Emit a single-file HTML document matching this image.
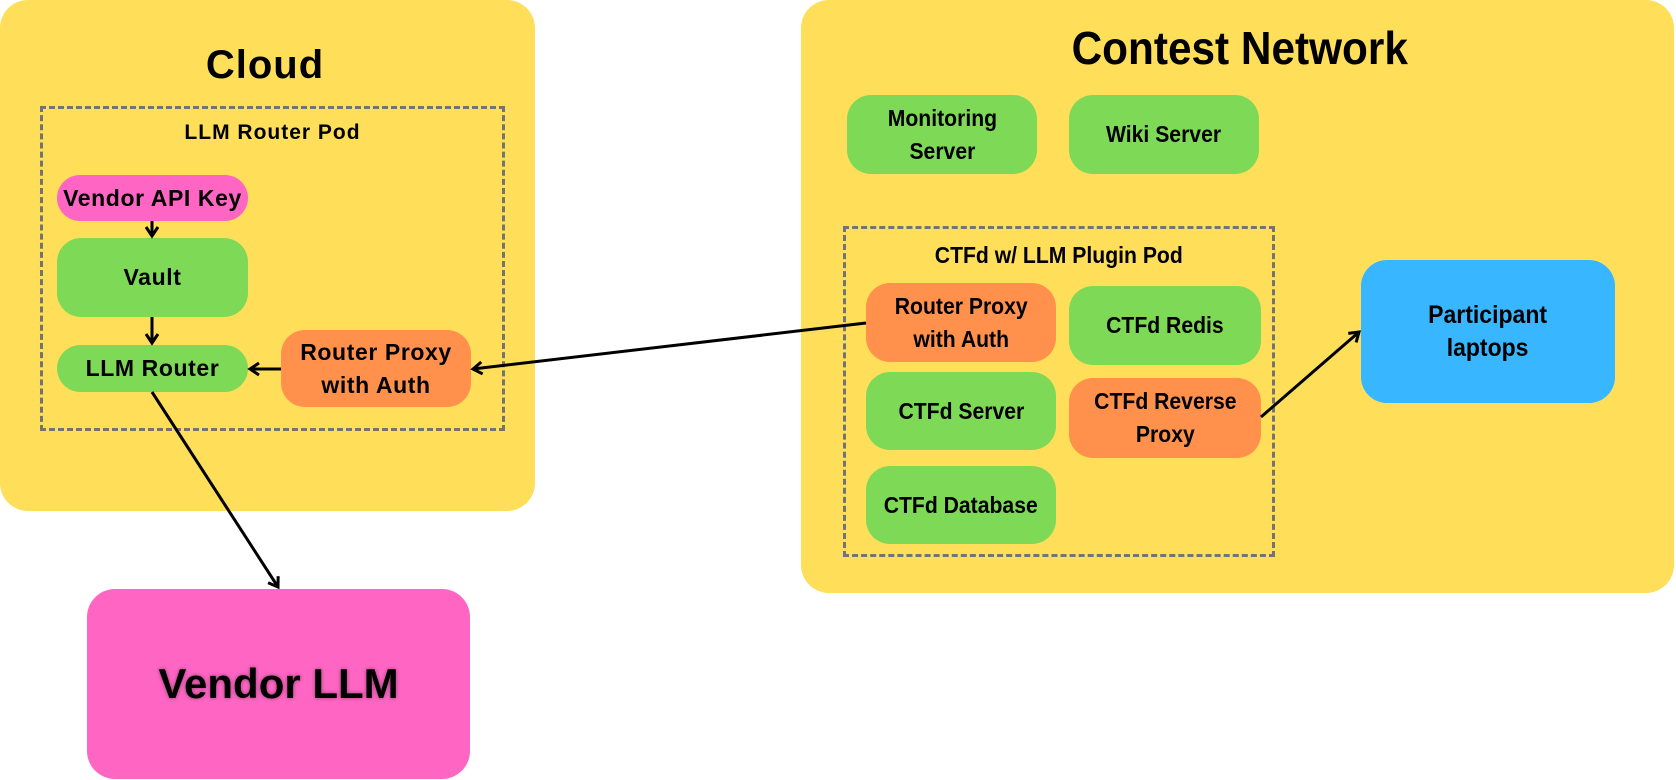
<!DOCTYPE html>
<html><head><meta charset="utf-8"><style>
body{margin:0;width:1676px;height:780px;background:#fff;position:relative;overflow:hidden;font-family:"Liberation Sans",sans-serif;font-weight:bold;color:#000}
.a{position:absolute;box-sizing:border-box;display:flex;align-items:center;justify-content:center;text-align:center}
.y{background:#ffde59;border-radius:28px}
.g{background:#7ed957}
.o{background:#ff914d}
.p{background:#ff66c4}
.d{border:3px dashed #737373}
.n{font-size:23px;line-height:33px;border-radius:24px;letter-spacing:0.6px}
.c span{display:inline-block;white-space:nowrap;transform:scaleX(0.92)}
.c{font-size:23px;line-height:33px;letter-spacing:0}
</style></head><body>
<div class="a y" style="left:0;top:0;width:535px;height:511px"></div>
<div class="a y" style="left:801px;top:0;width:873px;height:593px"></div>
<div class="a" style="left:0;top:40px;width:530px;height:50px;font-size:40px;letter-spacing:1px">Cloud</div>
<div class="a c" style="left:900px;top:22px;width:680px;height:52px;font-size:46px"><span>Contest Network</span></div>
<div class="a d" style="left:40px;top:106px;width:465px;height:325px"></div>
<div class="a" style="left:40px;top:119px;width:465px;height:28px;font-size:21px;letter-spacing:1px">LLM Router Pod</div>
<div class="a n p" style="left:57px;top:175px;width:191px;height:46px;white-space:nowrap">Vendor API Key</div>
<div class="a n g" style="left:57px;top:238px;width:191px;height:79px">Vault</div>
<div class="a n g" style="left:57px;top:345px;width:191px;height:47px">LLM Router</div>
<div class="a n o" style="left:281px;top:330px;width:190px;height:77px">Router Proxy<br>with Auth</div>
<div class="a p" style="left:87px;top:589px;width:383px;height:190px;border-radius:28px;font-size:42px;text-shadow:0 0 4px rgba(0,0,0,.4)">Vendor LLM</div>

<div class="a d" style="left:843px;top:226px;width:432px;height:331px"></div>
<div class="a c" style="left:843px;top:240px;width:432px;height:30px;font-size:23px"><span>CTFd w/ LLM Plugin Pod</span></div>
<div class="a n c g" style="left:847px;top:95px;width:190px;height:79px"><span>Monitoring<br>Server</span></div>
<div class="a n c g" style="left:1069px;top:95px;width:190px;height:79px"><span>Wiki Server</span></div>
<div class="a n c o" style="left:866px;top:283px;width:190px;height:79px"><span>Router Proxy<br>with Auth</span></div>
<div class="a n c g" style="left:1069px;top:286px;width:192px;height:79px"><span>CTFd Redis</span></div>
<div class="a n c g" style="left:866px;top:372px;width:190px;height:78px"><span>CTFd Server</span></div>
<div class="a n c o" style="left:1069px;top:378px;width:192px;height:80px"><span>CTFd Reverse<br>Proxy</span></div>
<div class="a n c g" style="left:866px;top:466px;width:190px;height:78px"><span>CTFd Database</span></div>
<div class="a c" style="left:1361px;top:260px;width:254px;height:143px;background:#38b6ff;border-radius:26px;font-size:25px"><span>Participant<br>laptops</span></div>

<svg style="position:absolute;left:0;top:0" width="1676" height="780">
<defs><marker id="m" markerWidth="14" markerHeight="16" refX="11" refY="8" orient="auto" markerUnits="userSpaceOnUse"><path d="M2,2 L11,8 L2,14" fill="none" stroke="#000" stroke-width="3"/></marker></defs>
<g stroke="#000" stroke-width="3" fill="none" marker-end="url(#m)">
<line x1="152" y1="221" x2="152" y2="236"/>
<line x1="152" y1="317" x2="152" y2="343"/>
<line x1="281" y1="369" x2="250" y2="369"/>
<line x1="866" y1="323" x2="473" y2="369"/>
<line x1="152" y1="392" x2="278" y2="587"/>
<line x1="1261" y1="417" x2="1359" y2="332"/>
</g></svg>
</body></html>
